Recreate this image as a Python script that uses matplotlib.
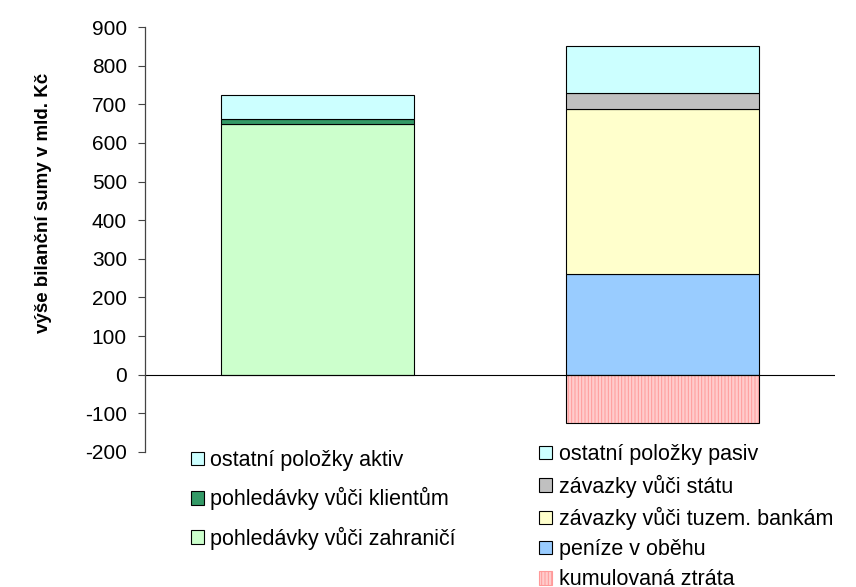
import matplotlib.pyplot as plt
import matplotlib.patches as patches

plt.rcParams['font.family'] = ['Liberation Sans', 'DejaVu Sans']
plt.rcParams['axes.unicode_minus'] = False

# --- DATA (mld. Kč) ---
aktiva_labels = ['pohledávky vůči zahraničí', 'pohledávky vůči klientům', 'ostatní položky aktiv']
aktiva_values = [648, 13, 63]
aktiva_colors = ['#CCFFCC', '#339966', '#CCFFFF']

pasiva_labels = ['peníze v oběhu', 'závazky vůči tuzem. bankám', 'závazky vůči státu', 'ostatní položky pasiv']
pasiva_values = [260, 428, 40, 123]
pasiva_colors = ['#99CCFF', '#FFFFCC', '#C0C0C0', '#CCFFFF']

ztrata_label = 'kumulovaná ztráta'
ztrata_value = -125

y_ticks = [-200, -100, 0, 100, 200, 300, 400, 500, 600, 700, 800, 900]

fig = plt.figure(figsize=(8.56, 5.87), dpi=100)
ax = fig.add_axes([0.1694, 0.23, 0.806, 0.724])

w = 0.557
# aktiva stack
bottom = 0
for lab, val, col in zip(aktiva_labels, aktiva_values, aktiva_colors):
    ax.bar(0.5, val, w, bottom=bottom, color=col, edgecolor='black', lw=0.8, label=lab)
    bottom += val

# pasiva stack
bottom = 0
for lab, val, col in zip(pasiva_labels, pasiva_values, pasiva_colors):
    ax.bar(1.5, val, w, bottom=bottom, color=col, edgecolor='black', lw=0.8, label=lab)
    bottom += val

# hatched loss bar: pink hatch, then black outline on top
plt.rcParams['hatch.linewidth'] = 0.7
ax.bar(1.5, ztrata_value, w, color='#FFCCCC', edgecolor='#FF9999', lw=0, hatch='|||||')
ax.bar(1.5, ztrata_value, w, fill=False, edgecolor='black', lw=0.8)

ax.axhline(0, color='black', lw=0.8, zorder=1)

ax.set_xlim(0, 2)
ax.set_ylim(-200, 900)
ax.set_yticks(y_ticks)
ax.set_xticks([])
ax.tick_params(axis='y', labelsize=15, length=5, width=0.8, pad=8, color='#444444')
for s in ['top', 'right', 'bottom']:
    ax.spines[s].set_visible(False)
ax.spines['left'].set_linewidth(0.9)
ax.spines['left'].set_color('#444444')
ax.set_ylabel('výše bilanční sumy v mld. Kč', fontsize=13.5, fontweight='bold')
ax.yaxis.set_label_coords(-0.135, 0.586)

# legends
lh = [patches.Patch(facecolor=c, edgecolor='black', lw=0.8) for c in aktiva_colors][::-1]
fig.legend(lh, aktiva_labels[::-1], loc='upper left', bbox_to_anchor=(0.2126, 0.248),
           frameon=False, fontsize=15.5, handlelength=0.6, handleheight=0.6,
           handletextpad=0.3, labelspacing=0.75, borderaxespad=0)
rh = [patches.Patch(facecolor=c, edgecolor='black', lw=0.8) for c in pasiva_colors][::-1]
rh.append(patches.Patch(facecolor='#FFCCCC', edgecolor='#FF9999', lw=0.8, hatch='|||||'))
fig.legend(rh, pasiva_labels[::-1] + [ztrata_label], loc='upper left',
           bbox_to_anchor=(0.620, 0.258), frameon=False, fontsize=15.5,
           handlelength=0.6, handleheight=0.6, handletextpad=0.3,
           labelspacing=0.43, borderaxespad=0)

fig.savefig('out.png', dpi=100)
